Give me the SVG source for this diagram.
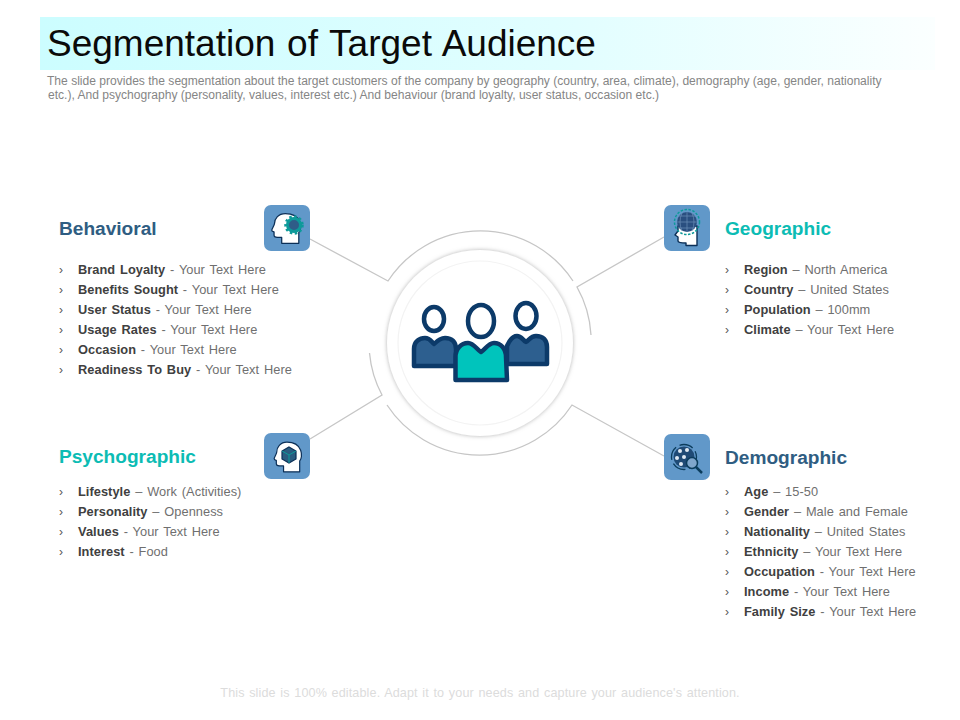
<svg xmlns="http://www.w3.org/2000/svg" width="960" height="720" viewBox="0 0 960 720">
<style>
text{font-family:"Liberation Sans",Arial,sans-serif}
.t{font-size:37px;fill:#0a0a0a;word-spacing:1.500px}
.d{font-size:12.070px;fill:#858585}
.h{font-size:19.100px;font-weight:bold}
.dk{fill:#2f5d82}.tl{fill:#0cbcb4}
.r{font-size:12.800px;fill:#6f6f6f;word-spacing:1.200px;letter-spacing:.05px}
.r tspan{font-weight:bold;fill:#404040}
.b{font-size:12px;fill:#555}
.f{font-size:12.600px;fill:#dcdcdc;word-spacing:1px;letter-spacing:.12px}
.box{fill:#6198c9}
.hd{fill:#fff;stroke:#0b2f57;stroke-width:1.400;stroke-linejoin:round}
.ln{fill:none;stroke:#c6c6c6;stroke-width:1.300}
.pb{stroke:#0c3a69;stroke-width:4.500;stroke-linejoin:round}
.ph{fill:#fff;stroke:#0c3a69;stroke-width:4.500}
</style>
<defs>
<linearGradient id="bn" x1="0" x2="1" y1="0" y2="0"><stop offset="0" stop-color="#ccfdff"/><stop offset=".6" stop-color="#e2feff"/><stop offset="1" stop-color="#fbffff"/></linearGradient>
<filter id="sh" x="-20%" y="-20%" width="140%" height="140%"><feDropShadow dx="0" dy="0" stdDeviation="2.200" flood-color="#999" flood-opacity=".75"/></filter>
<path id="head" d="M-3-16C-11-16-15-10-15-5C-15-3-18 1-18 2.500C-18 4-16 4-15.500 4.500L-15.500 8C-15.500 10.500-13 10.500-9 10.500L-7 10.500L-7 17L12 17L12 5C16 1 16-16-3-16Z"/>
</defs>
<rect id="banner" x="40" y="17" width="895" height="53" fill="url(#bn)"/>
<text class="t" x="47" y="56">Segmentation of Target Audience</text>
<text class="d" x="47" y="85">The slide provides the segmentation about the target customers of the company by geography (country, area, climate), demography (age, gender, nationality</text>
<text class="d" x="48" y="99">etc.), And psychography (personality, values, interest etc.) And behaviour (brand loyalty, user status, occasion etc.)</text>

<g id="connectors">
<path class="ln" d="M310 239L388 281A110.500 110.500 0 0 1 573 281"/>
<path class="ln" d="M664 237L577 287A110.500 110.500 0 0 1 591 335"/>
<path class="ln" d="M310 439L382 395A110.500 110.500 0 0 1 369.500 353"/>
<path class="ln" d="M664 456L572 405A110.500 110.500 0 0 1 387 405"/>
</g>

<g id="center">
<circle cx="480" cy="343" r="93" fill="#fff" filter="url(#sh)"/>
<circle cx="480" cy="343" r="82" fill="none" stroke="#f3f3f3" stroke-width="1.200"/>
<g id="people">
<ellipse class="ph" cx="434" cy="319" rx="10" ry="12"/>
<path class="pb" fill="#2d5f8f" d="M414 366V349C414 341 420 338 425 338C430 338 431 341 434 344C437 341 440 338 445 338C452 338 456 342 456 349V366Z"/>
<ellipse class="ph" cx="526" cy="316" rx="10.500" ry="13"/>
<path class="pb" fill="#2d5f8f" d="M507 364V346C510 339 513 336 517 336C521 336 523 340 526 342C529 340 531 336 536 336C543 336 547 340 547 347V364Z"/>
<ellipse class="ph" cx="481" cy="321" rx="13" ry="16"/>
<path class="pb" fill="#00c4bc" d="M455.500 380V357C455.500 349 461 343 468 343C474 343 477 350 481 352C485 350 488 343 494 343C501 343 506 349 506 357L507 380Z"/>
</g>
</g>

<g id="behavioral">
<rect class="box" x="264" y="205" width="46" height="46" rx="7"/>
<use href="#head" class="hd" transform="translate(288 228) scale(.9)"/>
<circle cx="294" cy="225" r="6.500" fill="#2f5d88" stroke="#0d9a9a" stroke-width="3"/>
<circle cx="294" cy="225" r="8.500" fill="none" stroke="#0d9a9a" stroke-width="2.500" stroke-dasharray="2.500 2.500"/>
<text class="h dk" x="59" y="234.500">Behavioral</text>
<text class="b" x="59" y="273.500">›</text><text class="b" x="59" y="293.500">›</text><text class="b" x="59" y="313.500">›</text><text class="b" x="59" y="333.500">›</text><text class="b" x="59" y="353.500">›</text><text class="b" x="59" y="373.500">›</text>
<text class="r" x="78" y="273.500"><tspan>Brand Loyalty</tspan> - Your Text Here</text>
<text class="r" x="78" y="293.500"><tspan>Benefits Sought</tspan> - Your Text Here</text>
<text class="r" x="78" y="313.500"><tspan>User Status</tspan> - Your Text Here</text>
<text class="r" x="78" y="333.500"><tspan>Usage Rates</tspan> - Your Text Here</text>
<text class="r" x="78" y="353.500"><tspan>Occasion</tspan> - Your Text Here</text>
<text class="r" x="78" y="373.500"><tspan>Readiness To Buy</tspan> - Your Text Here</text>
</g>

<g id="geographic">
<rect class="box" x="664" y="205" width="46" height="46" rx="7"/>
<path class="hd" d="M678 226V231L675 235L678 237V241C678 243 684 243 686 243V245.500H697V226Z"/>
<circle cx="687" cy="222" r="10" fill="#2a4f80"/>
<circle cx="687" cy="222" r="12.500" fill="none" stroke="#0d9a9a" stroke-width="1.500" stroke-dasharray="2.500 1.500"/>
<path d="M677 222H697M679 216H695M679 228H695M687 212V232M682 213Q678 222 682 231M692 213Q696 222 692 231" fill="none" stroke="#6b8fb8" stroke-width=".7"/>
<text class="h tl" x="725" y="234.500">Geographic</text>
<text class="b" x="725" y="273.500">›</text><text class="b" x="725" y="293.500">›</text><text class="b" x="725" y="313.500">›</text><text class="b" x="725" y="333.500">›</text>
<text class="r" x="744" y="273.500"><tspan>Region</tspan> – North America</text>
<text class="r" x="744" y="293.500"><tspan>Country</tspan> – United States</text>
<text class="r" x="744" y="313.500"><tspan>Population</tspan> – 100mm</text>
<text class="r" x="744" y="333.500"><tspan>Climate</tspan> – Your Text Here</text>
</g>

<g id="psychographic">
<rect class="box" x="264" y="433" width="46" height="46" rx="7"/>
<use href="#head" class="hd" transform="translate(289.500 456.500) scale(.85 .9)"/>
<path d="M289 447L296 451V459L289 463L282 459V451Z" fill="#2a5c80" stroke="#0b2f57" stroke-width="1.200"/>
<path d="M282 451L289 455L296 451M289 455V463" fill="none" stroke="#0d9a9a" stroke-width="1"/>
<text class="h tl" x="59" y="462.500">Psychographic</text>
<text class="b" x="59" y="495.500">›</text><text class="b" x="59" y="515.500">›</text><text class="b" x="59" y="535.500">›</text><text class="b" x="59" y="555.500">›</text>
<text class="r" x="78" y="495.500"><tspan>Lifestyle</tspan> – Work (Activities)</text>
<text class="r" x="78" y="515.500"><tspan>Personality</tspan> – Openness</text>
<text class="r" x="78" y="535.500"><tspan>Values</tspan> - Your Text Here</text>
<text class="r" x="78" y="555.500"><tspan>Interest</tspan> - Food</text>
</g>

<g id="demographic">
<rect class="box" x="664" y="434" width="46" height="46" rx="7"/>
<circle cx="684" cy="457" r="10.500" fill="#1f4a75"/>
<circle cx="684" cy="457" r="12.500" fill="none" stroke="#0b3c5c" stroke-width="1.300" stroke-dasharray="14 4"/>
<g fill="#dfe9f3"><circle cx="680" cy="451" r="2"/><circle cx="687" cy="450" r="2"/><circle cx="677" cy="458" r="2"/><circle cx="684" cy="457" r="2"/><circle cx="681" cy="464" r="2"/></g>
<circle cx="692" cy="463" r="5.500" fill="#7fa6cc" stroke="#0b3c5c" stroke-width="1.500"/>
<path d="M696 467L702 473" stroke="#0b3c5c" stroke-width="2.500"/>
<text class="h dk" x="725" y="463.500">Demographic</text>
<text class="b" x="725" y="495.500">›</text><text class="b" x="725" y="515.500">›</text><text class="b" x="725" y="535.500">›</text><text class="b" x="725" y="555.500">›</text><text class="b" x="725" y="575.500">›</text><text class="b" x="725" y="595.500">›</text><text class="b" x="725" y="615.500">›</text>
<text class="r" x="744" y="495.500"><tspan>Age</tspan> – 15-50</text>
<text class="r" x="744" y="515.500"><tspan>Gender</tspan> – Male and Female</text>
<text class="r" x="744" y="535.500"><tspan>Nationality</tspan> – United States</text>
<text class="r" x="744" y="555.500"><tspan>Ethnicity</tspan> – Your Text Here</text>
<text class="r" x="744" y="575.500"><tspan>Occupation</tspan> - Your Text Here</text>
<text class="r" x="744" y="595.500"><tspan>Income</tspan> - Your Text Here</text>
<text class="r" x="744" y="615.500"><tspan>Family Size</tspan> - Your Text Here</text>
</g>
<text class="f" x="480" y="697" text-anchor="middle">This slide is 100% editable. Adapt it to your needs and capture your audience's attention.</text>
</svg>
